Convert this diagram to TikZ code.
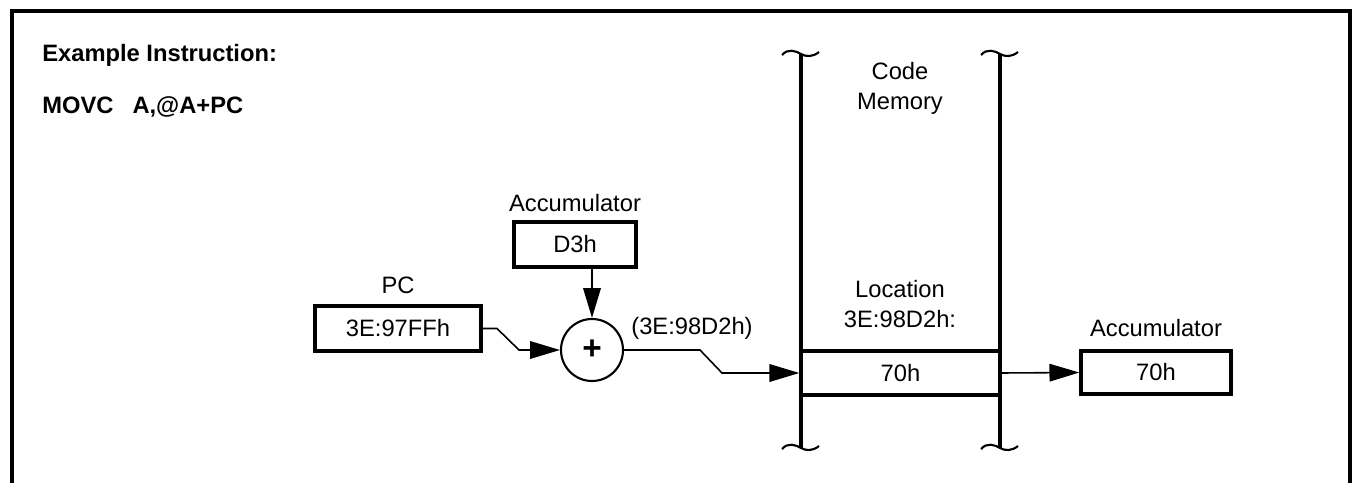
\documentclass[tikz,border=0pt]{standalone}
\usepackage{fontspec}
\setmainfont{Liberation Sans}
\usetikzlibrary{arrows.meta}
\begin{document}
\begin{tikzpicture}[x=0.02cm,y=-0.02cm,
  every node/.style={font=\fontsize{13.5}{17}\selectfont},
  lbl/.style={inner sep=0pt},
  regbox/.style={draw,line width=1.9pt,inner sep=0pt},
  wire/.style={line width=0.9pt},
  arr/.style={wire,-{Triangle[length=17pt,width=10pt]}},
  memline/.style={line width=1.9pt},
  tilde/.style={line width=1.2pt}]
\useasboundingbox (0,0) rectangle (1353,483);
% frame
\draw[line width=1.9pt] (12,484) -- (12,11) -- (1350,11) -- (1350,484);
% headings
\node[lbl,anchor=base west,font=\fontsize{13.5}{17}\selectfont\bfseries] (ex) at (42,62) {Example Instruction:};
\node[lbl,anchor=base west,font=\fontsize{13.5}{17}\selectfont\bfseries] (movc) at (42,113) {MOVC\hspace{19\dimexpr0.02cm\relax}A,@A+PC};
% accumulator (D3h)
\node[lbl] (accL) at (575,203) {Accumulator};
\node[regbox,minimum width=122*0.02cm,minimum height=45*0.02cm] (d3h) at (575,244.5) {D3h};
% PC
\node[lbl] (pcL) at (398,285) {PC};
\node[regbox,minimum width=166*0.02cm,minimum height=45*0.02cm] (pc) at (398,328.5) {3E:97FFh};
% adder
\node[draw,circle,line width=1.2pt,minimum size=62*0.02cm,inner sep=0pt,font=\fontsize{19}{20}\selectfont\bfseries] (sum) at (592,350) {+};
\node[lbl] (sumL) at (692,328) {(3E:98D2h)};
% code memory
\coordinate (mlt) at (801,54);
\coordinate (mlb) at (801,448);
\coordinate (mrt) at (1000,54);
\coordinate (mrb) at (1000,448);
\draw[memline] (mlt) -- (mlb);
\draw[memline] (mrt) -- (mrb);
\foreach \c in {mlt,mlb,mrt,mrb}{
  \draw[tilde] (\c) ++(-19,1) .. controls ++(6,-7) and ++(-5,-3) .. ++(19,-1)
     .. controls ++(5,3) and ++(-6,5) .. ++(18,-2);
}
\node[lbl,align=center] (codeL) at (900,88) {Code\\Memory};
\node[lbl,align=center] (locL) at (900,304) {Location\\3E:98D2h:};
\node[regbox,minimum width=199*0.02cm,minimum height=44*0.02cm] (mem) at (900.5,373) {70h};
% result accumulator
\node[lbl] (acc2L) at (1156,328) {Accumulator};
\node[regbox,minimum width=150*0.02cm,minimum height=43*0.02cm] (acc2) at (1156,372.5) {70h};
% wires
\draw[arr] (pc.east) -- (497,328.5) -- (519,350) -- (sum.west);
\draw[arr] (d3h.south -| sum.north) -- (sum.north);
\draw[arr] (sum.east) -- (700,350) -- (722,373) -- (mem.west);
\draw[arr] (mem.east) -- (acc2.west);
\end{tikzpicture}
\end{document}
